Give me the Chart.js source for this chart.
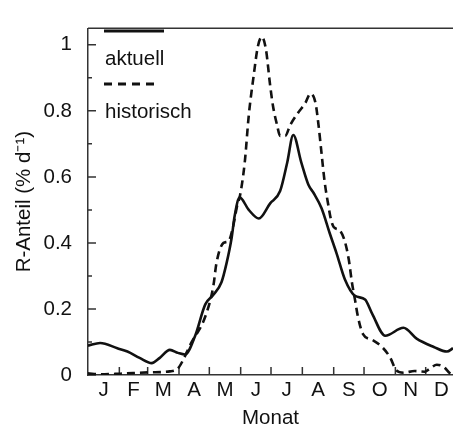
<!DOCTYPE html>
<html>
<head>
  <style>
    body { margin: 0; background: #fff; }
    canvas { display: block; }
  </style>
</head>
<body>
  <canvas id="chart" width="453" height="429"></canvas>

  <script src="https://cdn.jsdelivr.net/npm/chart.js"></script>
  <script>
    // day of year -> share of annual R (% per day)
    const aktuellDays = [0, 12, 29, 39, 51, 63, 71, 81, 89, 96, 106, 116, 124, 132, 137, 142, 145, 150, 159, 169,
                         180, 190, 197, 203, 211, 218, 223, 231, 239, 246, 254, 264, 274, 281, 294, 312, 325, 342, 355, 361];
    const aktuellValues = [0.089, 0.097, 0.081, 0.071, 0.052, 0.036, 0.052, 0.076, 0.067, 0.062, 0.119, 0.214, 0.243, 0.281, 0.338, 0.414, 0.481, 0.538, 0.50, 0.474,
                           0.519, 0.557, 0.643, 0.727, 0.643, 0.576, 0.552, 0.505, 0.43, 0.367, 0.29, 0.24, 0.229, 0.186, 0.119, 0.143, 0.11, 0.085, 0.071, 0.081];

    const historischDays = [0, 12, 32, 61, 81, 89, 94, 101, 116, 124, 127, 134, 139, 143, 148, 150, 155, 159, 164, 168,
                            172, 176, 180, 183, 187, 190, 195, 200, 208, 215, 220, 225, 228, 231, 234, 238, 240, 243, 249, 254,
                            258, 261, 264, 267, 272, 282, 292, 299, 305, 312, 323, 333, 338, 345, 352, 358, 361];
    const historischValues = [0.005, 0.002, 0.004, 0.008, 0.011, 0.02, 0.045, 0.091, 0.177, 0.27, 0.338, 0.40, 0.405, 0.443, 0.519, 0.538, 0.643, 0.786, 0.91, 0.995,
                              1.024, 0.986, 0.881, 0.814, 0.757, 0.724, 0.724, 0.757, 0.795, 0.824, 0.852, 0.824, 0.757, 0.671, 0.586, 0.509, 0.475, 0.448, 0.438, 0.405,
                              0.348, 0.281, 0.229, 0.176, 0.124, 0.105, 0.081, 0.052, 0.014, 0.007, 0.012, 0.01, 0.019, 0.031, 0.024, 0.005, 0.0];

    const monthLabels = ['J', 'F', 'M', 'A', 'M', 'J', 'J', 'A', 'S', 'O', 'N', 'D'];
    const monthStarts = [0, 31, 59, 90, 120, 151, 181, 212, 243, 273, 304, 334, 365];
    const yTickValues = [0, 0.2, 0.4, 0.6, 0.8, 1];
    const yMinorValues = [0.1, 0.3, 0.5, 0.7, 0.9];

    const ink = '#111';
    const axisInk = '#333';
    const fontFamily = '"Liberation Sans", Arial, sans-serif';
    const fontSize = 20.5;

    const monthMids = monthLabels.map((m, i) => (monthStarts[i] + monthStarts[i + 1]) / 2);

    function toPoints(days, values) {
        return days.map((d, i) => ({ x: d, y: values[i] }));
    }

    // inward ticks on both axes + top frame line
    const frameTicks = {
        id: 'frameTicks',
        beforeDatasetsDraw(chart) {
            const { ctx, chartArea, scales } = chart;
            ctx.save();
            ctx.strokeStyle = axisInk;
            ctx.lineWidth = 1.5;
            ctx.beginPath();
            ctx.moveTo(chartArea.left, chartArea.top);
            ctx.lineTo(chartArea.right, chartArea.top);
            for (let i = 1; i < monthStarts.length - 1; i++) {
                const px = scales.x.getPixelForValue(monthStarts[i]);
                ctx.moveTo(px, chartArea.bottom);
                ctx.lineTo(px, chartArea.bottom - 8);
            }
            yTickValues.forEach(v => {
                const py = scales.y.getPixelForValue(v);
                ctx.moveTo(chartArea.left, py);
                ctx.lineTo(chartArea.left + 8, py);
            });
            yMinorValues.forEach(v => {
                const py = scales.y.getPixelForValue(v);
                ctx.moveTo(chartArea.left, py);
                ctx.lineTo(chartArea.left + 4, py);
            });
            ctx.stroke();
            ctx.restore();
        }
    };

    // legend: sample line above its label
    const stackedLegend = {
        id: 'stackedLegend',
        afterDraw(chart) {
            const { ctx } = chart;
            const x0 = 104;
            ctx.save();
            ctx.strokeStyle = ink;
            ctx.lineWidth = 3;
            ctx.beginPath();
            ctx.moveTo(x0, 31);
            ctx.lineTo(x0 + 60, 31);
            ctx.stroke();
            ctx.setLineDash([8, 6]);
            ctx.beginPath();
            ctx.moveTo(x0, 84);
            ctx.lineTo(x0 + 52, 84);
            ctx.stroke();
            ctx.fillStyle = ink;
            ctx.font = fontSize + 'px ' + fontFamily;
            ctx.textBaseline = 'alphabetic';
            ctx.textAlign = 'left';
            ctx.fillText('aktuell', x0 + 1, 65);
            ctx.fillText('historisch', x0 + 1, 118);
            ctx.restore();
        }
    };

    new Chart(document.getElementById('chart'), {
        type: 'line',
        data: {
            datasets: [
                {
                    label: 'aktuell',
                    data: toPoints(aktuellDays, aktuellValues),
                    borderColor: ink,
                    borderWidth: 2.6,
                    cubicInterpolationMode: 'monotone'
                },
                {
                    label: 'historisch',
                    data: toPoints(historischDays, historischValues),
                    borderColor: ink,
                    borderWidth: 2.6,
                    borderDash: [8, 5],
                    cubicInterpolationMode: 'monotone'
                }
            ]
        },
        options: {
            responsive: false,
            animation: false,
            layout: { padding: { top: 7, right: 0, left: 0, bottom: 0 } },
            elements: { point: { radius: 0 } },
            plugins: {
                legend: { display: false },
                tooltip: { enabled: false }
            },
            scales: {
                x: {
                    type: 'linear',
                    min: 0,
                    max: 361,
                    afterFit: s => { s.height = 54; },
                    afterBuildTicks: s => { s.ticks = monthMids.map(v => ({ value: v })); },
                    grid: { display: false, drawTicks: false },
                    border: { display: true, color: axisInk, width: 1.5 },
                    ticks: {
                        autoSkip: false,
                        maxRotation: 0,
                        padding: 3,
                        color: ink,
                        font: { family: fontFamily, size: fontSize },
                        callback: (v, i) => monthLabels[i]
                    },
                    title: {
                        display: true,
                        text: 'Monat',
                        color: ink,
                        font: { family: fontFamily, size: fontSize, lineHeight: 1 },
                        padding: { top: 0, bottom: 0 }
                    }
                },
                y: {
                    type: 'linear',
                    min: 0,
                    max: 1.05,
                    afterFit: s => { s.width = 88; },
                    afterBuildTicks: s => { s.ticks = yTickValues.map(v => ({ value: v })); },
                    grid: { display: false, drawTicks: false },
                    border: { display: true, color: axisInk, width: 1.5 },
                    ticks: {
                        padding: 16,
                        color: ink,
                        font: { family: fontFamily, size: fontSize },
                        callback: v => String(v)
                    },
                    title: {
                        display: true,
                        text: 'R-Anteil (% d\u207B\u00B9)',
                        color: ink,
                        font: { family: fontFamily, size: fontSize },
                        padding: { top: 12, bottom: 0 }
                    }
                }
            }
        },
        plugins: [frameTicks, stackedLegend]
    });
  </script>
</body>
</html>
